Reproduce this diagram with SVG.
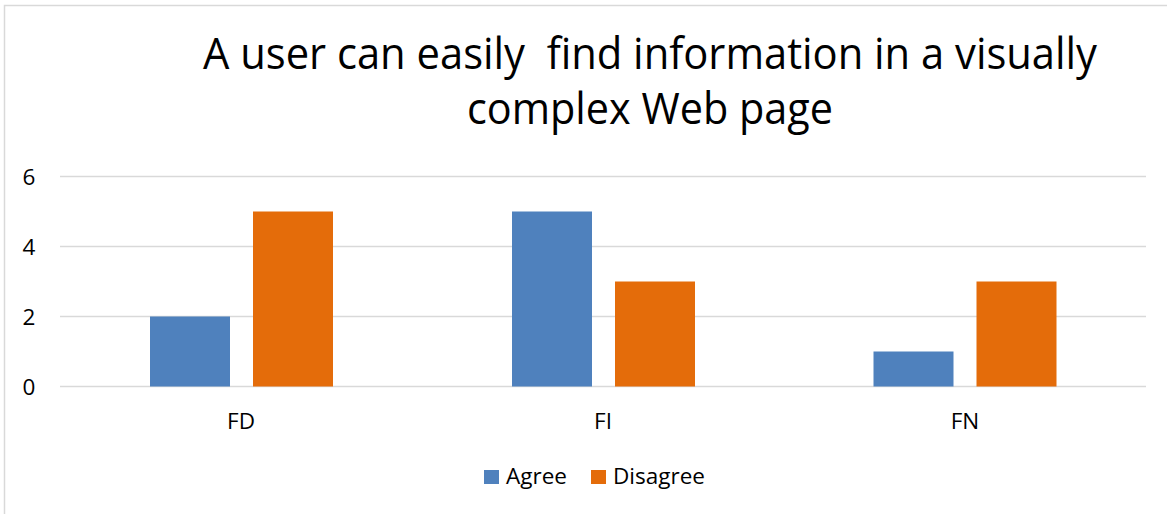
<svg xmlns="http://www.w3.org/2000/svg" width="1167" height="514" viewBox="0 0 1167 514">
  <style>
    .t { font-family: "Open Sans", "Liberation Sans", sans-serif; fill: #000; }
    .title { font-size: 44px; }
    .tick { font-size: 22.5px; text-anchor: middle; }
    .leg { font-size: 22.5px; }
    .grid { stroke: #d9d9d9; stroke-width: 1.5; }
    .agree { fill: #4f81bd; }
    .dis { fill: #e46c0a; }
  </style>
  <rect x="0" y="0" width="1167" height="514" fill="#fff"/>
  <rect id="frame" x="4.5" y="5.5" width="1200" height="600" fill="none" stroke="#d9d9d9" stroke-width="1.5"/>
  <g id="title">
    <text class="t title" x="650" y="69" text-anchor="middle" textLength="894" lengthAdjust="spacingAndGlyphs" xml:space="preserve">A user can easily  find information in a visually</text>
    <text class="t title" x="650" y="124" text-anchor="middle" textLength="366" lengthAdjust="spacingAndGlyphs">complex Web page</text>
  </g>
  <g id="gridlines">
    <line class="grid" x1="60" y1="176.5" x2="1146" y2="176.5"/>
    <line class="grid" x1="60" y1="246.5" x2="1146" y2="246.5"/>
    <line class="grid" x1="60" y1="316.5" x2="1146" y2="316.5"/>
    <line class="grid" x1="60" y1="386.5" x2="1146" y2="386.5"/>
  </g>
  <g id="y-axis">
    <text class="t tick" x="29" y="185">6</text>
    <text class="t tick" x="29" y="255">4</text>
    <text class="t tick" x="29" y="325">2</text>
    <text class="t tick" x="29" y="395">0</text>
  </g>
  <g id="bars-FD">
    <rect class="agree" x="150" y="316.5" width="80" height="70"/>
    <rect class="dis" x="253" y="211.5" width="80" height="175"/>
  </g>
  <g id="bars-FI">
    <rect class="agree" x="512" y="211.5" width="80" height="175"/>
    <rect class="dis" x="615" y="281.5" width="80" height="105"/>
  </g>
  <g id="bars-FN">
    <rect class="agree" x="873.5" y="351.5" width="80" height="35"/>
    <rect class="dis" x="976.5" y="281.5" width="80" height="105"/>
  </g>
  <g id="x-axis">
    <text class="t tick" x="241" y="429">FD</text>
    <text class="t tick" x="603" y="429">FI</text>
    <text class="t tick" x="965" y="429">FN</text>
  </g>
  <g id="legend">
    <rect class="agree" x="484" y="470" width="15" height="14"/>
    <text class="t leg" x="506" y="484">Agree</text>
    <rect class="dis" x="591" y="470" width="15" height="14"/>
    <text class="t leg" x="613" y="484">Disagree</text>
  </g>
</svg>
